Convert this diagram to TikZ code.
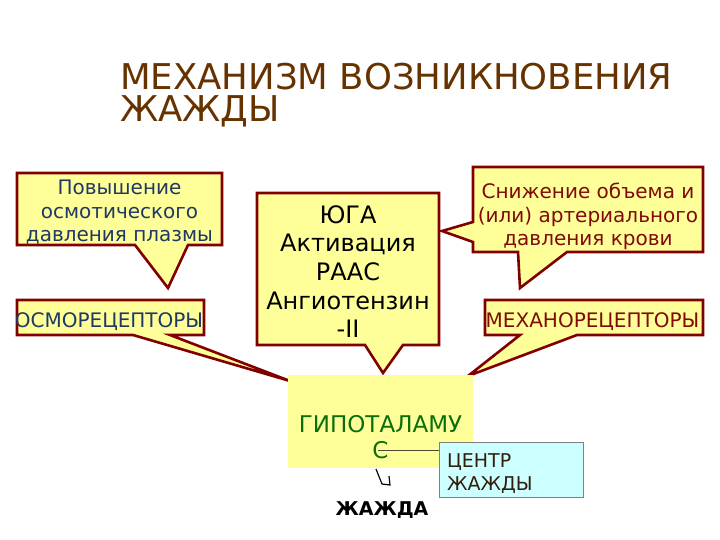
\documentclass[tikz,border=0pt]{standalone}
\usepackage{fontspec}
\setmainfont{DejaVu Sans}
\definecolor{boxfill}{RGB}{255,255,153}
\definecolor{boxline}{RGB}{128,0,0}
\definecolor{titlecol}{RGB}{102,51,0}
\definecolor{bluetext}{RGB}{31,56,100}
\definecolor{redtext}{RGB}{128,10,10}
\definecolor{greentext}{RGB}{10,110,10}
\definecolor{cyanfill}{RGB}{204,255,255}
\definecolor{centertext}{RGB}{50,30,10}
\tikzset{
  callout/.style={fill=boxfill, draw=boxline, line width=2.6pt, line join=miter},
  txt20/.style={inner sep=0pt, font=\fontsize{20}{23.3}\selectfont, align=center},
  txt24/.style={inner sep=0pt, font=\fontsize{24}{28.7}\selectfont, align=center},
}
\begin{document}
\begin{tikzpicture}[x=1pt,y=-1pt]
\useasboundingbox (0,0) rectangle (720,540);
% title
\node[inner sep=0pt, anchor=base west, text=titlecol, align=left, font=\fontsize{35.5}{31.5}\selectfont] (title) at (120,121.5) {МЕХАНИЗМ ВОЗНИКНОВЕНИЯ\\ЖАЖДЫ};

% callout shapes
\draw[callout] (17,173) -- (222,173) -- (222,245) -- (188,245) -- (168,288) -- (135,245) -- (17,245) -- cycle;
\draw[callout] (257,193) -- (439,193) -- (439,345) -- (403,345) -- (383,373) -- (365,345) -- (257,345) -- cycle;
\draw[callout] (473,167) -- (703,167) -- (703,252) -- (567,252) -- (520,288) -- (518,252) -- (473,252) -- (473,242) -- (442,231) -- (473,222) -- cycle;
\draw[callout] (17,300) -- (204,300) -- (204,335) -- (170,335) -- (290,381) -- (133,335) -- (17,335) -- cycle;
\draw[callout] (485,300) -- (703,300) -- (703,335) -- (577,335) -- (468,376) -- (520,335) -- (485,335) -- cycle;

% hypothalamus
\fill[boxfill] (288,375) rectangle (473,468);
\node[inner sep=0pt, text=greentext, font=\fontsize{23}{26}\selectfont, anchor=base, align=center] (hyp) at (380.5,458) {ГИПОТАЛАМУ\\С};

% texts in callouts
\node[txt20, text=bluetext, anchor=north] (osmp) at (119.5,180) {Повышение\\осмотического \\давления плазмы};
\node[txt24, text=black, anchor=north] (yuga) at (348,205) {ЮГА\\Активация\\РААС\\Ангиотензин\\-II};
\node[txt20, text=redtext, anchor=north] (blood) at (588,183) {Снижение объема и\\(или) артериального\\давления крови};
\node[inner sep=0pt, text=bluetext, font=\fontsize{20}{23.3}\selectfont, anchor=base] (osmo) at (109,327) {ОСМОРЕЦЕПТОРЫ};
\node[inner sep=0pt, text=redtext, font=\fontsize{20}{23.3}\selectfont, anchor=base] (mech) at (592.5,327) {МЕХАНОРЕЦЕПТОРЫ};

% centre box
\node[draw=gray, fill=cyanfill, line width=0.8pt, minimum width=144pt, minimum height=55pt, inner sep=0pt] (centre) at (511,469.5) {};
\node[inner sep=0pt, text=centertext, anchor=base west, align=left, font=\fontsize{19}{23}\selectfont] (centretxt) at (447,490) {ЦЕНТР\\ЖАЖДЫ};
\coordinate (cstart) at (378,450);
\draw[line width=0.8pt, color=black!60!olive] (cstart) -- (centre.west |- cstart);

% small stub
\coordinate (s1) at (376,469);
\coordinate (s2) at (382,484);
\coordinate (s3) at (390,485);
\coordinate (s4) at (389,476);
\draw[line width=1.2pt] (s1) -- (s2) -- (s3) -- (s4);

\node[inner sep=0pt, anchor=base, font=\fontsize{19}{23}\selectfont\bfseries] (thirst) at (382,515) {ЖАЖДА};
\end{tikzpicture}
\end{document}
